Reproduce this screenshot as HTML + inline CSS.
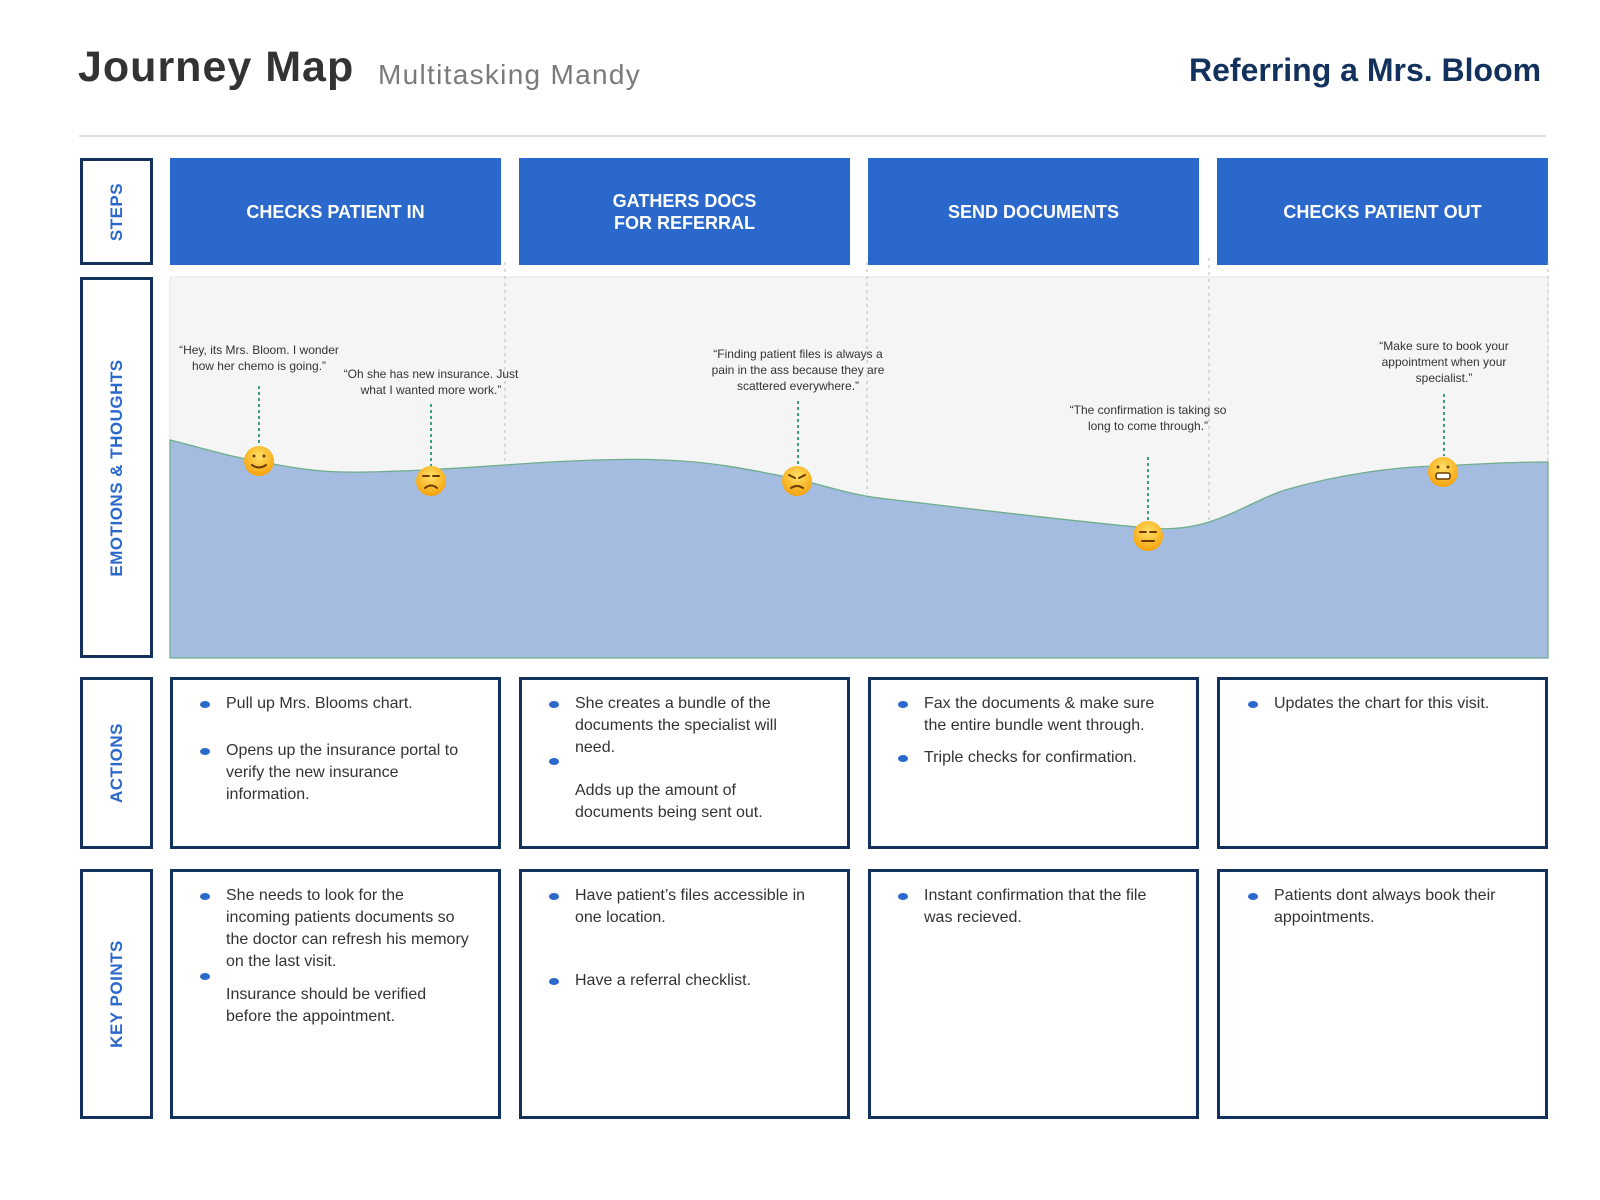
<!DOCTYPE html>
<html><head><meta charset="utf-8"><style>
*{margin:0;padding:0;box-sizing:border-box}
body{width:1600px;height:1200px;background:#fff;position:relative;overflow:hidden;font-family:"Liberation Sans",sans-serif;color:#333}
.a{position:absolute}
.lab{position:absolute;left:80px;width:73px;border:3px solid #12315c;background:#fff}
.lab span{position:absolute;left:50%;top:50%;transform:translate(-50%,-50%) rotate(-90deg);white-space:nowrap;color:#2b68cc;font-weight:bold;font-size:17px;letter-spacing:0.5px}
.step{position:absolute;top:158px;height:107px;width:331px;background:#2b68cc;color:#fff;font-weight:bold;font-size:18px;display:flex;align-items:center;justify-content:center;text-align:center;line-height:22px}
.box{position:absolute;width:331px;border:3px solid #12315c;background:#fff}
.t{position:absolute;font-size:16px;line-height:22px;color:#333;white-space:nowrap}
.b{position:absolute;width:10px;height:7px;border-radius:50%;background:#2b68cc}
.q{position:absolute;font-size:12px;line-height:16px;color:#333;text-align:center;white-space:nowrap;transform:translateX(-50%)}
</style></head><body>
<div class="a" style="left:78px;top:43px;font-size:43px;font-weight:bold;color:#333;letter-spacing:1px">Journey Map</div>
<div class="a" style="left:378px;top:59px;font-size:28px;color:#7a7a7a;letter-spacing:1.3px">Multitasking Mandy</div>
<div class="a" style="left:1189px;top:52px;font-size:32px;font-weight:bold;color:#12315c">Referring a Mrs. Bloom</div>
<div class="a" style="left:79px;top:135px;width:1467px;height:2px;background:#e0e0e0"></div>

<div class="lab" style="top:158px;height:107px"><span>STEPS</span></div>
<div class="lab" style="top:277px;height:381px"><span>EMOTIONS &amp; THOUGHTS</span></div>
<div class="lab" style="top:677px;height:172px"><span>ACTIONS</span></div>
<div class="lab" style="top:869px;height:250px"><span>KEY POINTS</span></div>

<div class="step" style="left:170px">CHECKS PATIENT IN</div>
<div class="step" style="left:519px">GATHERS DOCS<br>FOR REFERRAL</div>
<div class="step" style="left:868px">SEND DOCUMENTS</div>
<div class="step" style="left:1217px">CHECKS PATIENT OUT</div>

<svg class="a" style="left:0;top:0" width="1600" height="1200">
<rect x="170" y="277" width="1378" height="381" fill="#f5f5f5" stroke="#e6e6e6"/>
<g stroke="#bbb" stroke-width="1" stroke-dasharray="3,4">
<line x1="505" y1="262" x2="505" y2="462"/><line x1="867" y1="262" x2="867" y2="494"/>
<line x1="1209" y1="258" x2="1209" y2="522"/><line x1="1548" y1="262" x2="1548" y2="462"/>
</g>
<path d="M170,440 C210,450 235,458 259,461 C300,470 330,473 367,472 C420,471 460,468 505,465 C560,461 620,458 663,460 C720,462 760,472 797,479 C830,487 855,496 887,499 C980,510 1080,522 1148,528 C1170,530 1190,528 1209,522 C1240,512 1260,498 1285,490 C1340,474 1400,466 1443,466 C1490,463 1520,462 1548,462 L1548,658 L170,658 Z" fill="#a4bce0" stroke="#6fae8c" stroke-width="1.3"/>
<g stroke="#3f9f80" stroke-width="2" stroke-dasharray="3,3">
<line x1="259" y1="386" x2="259" y2="446"/><line x1="431" y1="404" x2="431" y2="466"/>
<line x1="798" y1="401" x2="798" y2="466"/><line x1="1148" y1="457" x2="1148" y2="520"/>
<line x1="1444" y1="394" x2="1444" y2="456"/>
</g>
<defs><radialGradient id="g" cx="50%" cy="35%" r="65%"><stop offset="0" stop-color="#ffe066"/><stop offset="1" stop-color="#f5a20a"/></radialGradient></defs>
<g stroke="#6b3b00" stroke-width="2" fill="none" stroke-linecap="round">
<circle cx="259" cy="461" r="15" fill="url(#g)" stroke="none"/>
<circle cx="254" cy="456" r="1.5" fill="#6b3b00" stroke="none"/><circle cx="264" cy="456" r="1.5" fill="#6b3b00" stroke="none"/>
<path d="M252,465 Q259,470 266,465"/>
<circle cx="431" cy="481" r="15" fill="url(#g)" stroke="none"/>
<path d="M423,476 L429,476 M433,476 L439,476 M425,488 Q431,483 437,488"/>
<circle cx="797" cy="481" r="15" fill="url(#g)" stroke="none"/>
<path d="M789,475 L795,478 M805,475 L799,478 M791,488 Q797,484 803,488"/>
<circle cx="1148" cy="536" r="15" fill="url(#g)" stroke="none"/>
<path d="M1140,532 L1146,532 M1150,532 L1156,532 M1142,541 L1154,541"/>
<circle cx="1443" cy="472" r="15" fill="url(#g)" stroke="none"/>
<circle cx="1438" cy="467" r="1.5" fill="#6b3b00" stroke="none"/><circle cx="1448" cy="467" r="1.5" fill="#6b3b00" stroke="none"/>
<rect x="1436" y="473" width="14" height="6" rx="2" fill="#fff" stroke-width="1.5"/>
</g>
</svg>

<div class="q" style="left:259px;top:342px">“Hey, its Mrs. Bloom. I wonder<br>how her chemo is going.”</div>
<div class="q" style="left:431px;top:366px">“Oh she has new insurance. Just<br>what I wanted more work.”</div>
<div class="q" style="left:798px;top:346px">“Finding patient files is always a<br>pain in the ass because they are<br>scattered everywhere.”</div>
<div class="q" style="left:1148px;top:402px">“The confirmation is taking so<br>long to come through.”</div>
<div class="q" style="left:1444px;top:338px">“Make sure to book your<br>appointment when your<br>specialist.”</div>

<div class="box" style="left:170px;top:677px;height:172px"></div>
<div class="box" style="left:519px;top:677px;height:172px"></div>
<div class="box" style="left:868px;top:677px;height:172px"></div>
<div class="box" style="left:1217px;top:677px;height:172px"></div>
<div class="box" style="left:170px;top:869px;height:250px"></div>
<div class="box" style="left:519px;top:869px;height:250px"></div>
<div class="box" style="left:868px;top:869px;height:250px"></div>
<div class="box" style="left:1217px;top:869px;height:250px"></div>

<div class="b" style="left:200px;top:701px"></div>
<div class="t" style="left:226px;top:693px">Pull up Mrs. Blooms chart.</div>
<div class="b" style="left:200px;top:748px"></div>
<div class="t" style="left:226px;top:740px">Opens up the insurance portal to<br>verify the new insurance<br>information.</div>

<div class="b" style="left:549px;top:701px"></div>
<div class="t" style="left:575px;top:693px">She creates a bundle of the<br>documents the specialist will<br>need.</div>
<div class="b" style="left:549px;top:758px"></div>
<div class="t" style="left:575px;top:780px">Adds up the amount of<br>documents being sent out.</div>

<div class="b" style="left:898px;top:701px"></div>
<div class="t" style="left:924px;top:693px">Fax the documents &amp; make sure<br>the entire bundle went through.</div>
<div class="b" style="left:898px;top:755px"></div>
<div class="t" style="left:924px;top:747px">Triple checks for confirmation.</div>

<div class="b" style="left:1248px;top:701px"></div>
<div class="t" style="left:1274px;top:693px">Updates the chart for this visit.</div>

<div class="b" style="left:200px;top:893px"></div>
<div class="t" style="left:226px;top:885px">She needs to look for the<br>incoming patients documents so<br>the doctor can refresh his memory<br>on the last visit.</div>
<div class="b" style="left:200px;top:973px"></div>
<div class="t" style="left:226px;top:984px">Insurance should be verified<br>before the appointment.</div>

<div class="b" style="left:549px;top:893px"></div>
<div class="t" style="left:575px;top:885px">Have patient’s files accessible in<br>one location.</div>
<div class="b" style="left:549px;top:978px"></div>
<div class="t" style="left:575px;top:970px">Have a referral checklist.</div>

<div class="b" style="left:898px;top:893px"></div>
<div class="t" style="left:924px;top:885px">Instant confirmation that the file<br>was recieved.</div>

<div class="b" style="left:1248px;top:893px"></div>
<div class="t" style="left:1274px;top:885px">Patients dont always book their<br>appointments.</div>
</body></html>
